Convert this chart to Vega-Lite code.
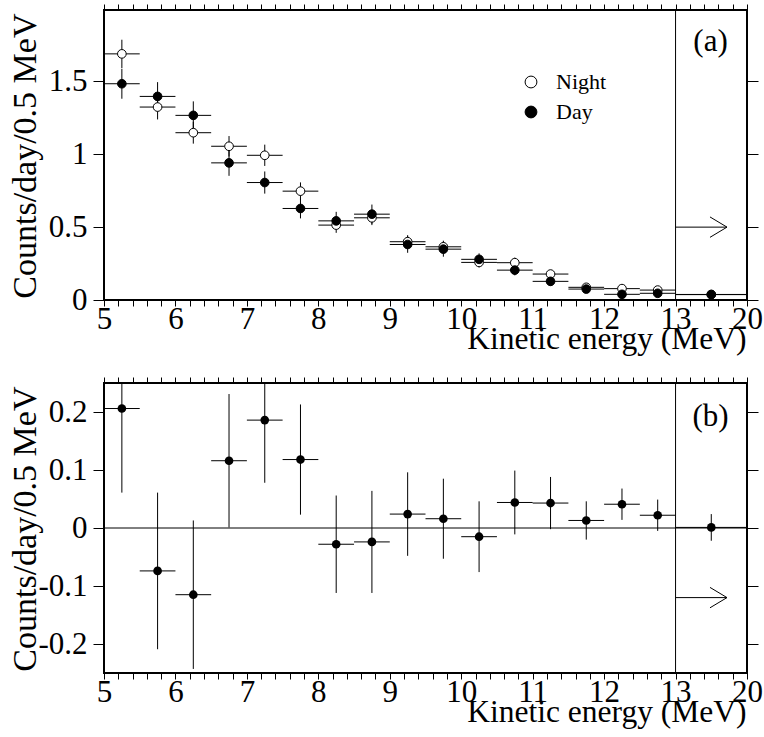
{
  "$schema": "https://vega.github.io/schema/vega-lite/v6.json",
  "padding": {"left": 6, "top": 2, "right": 2, "bottom": 2},
  "background": "white",
  "config": {
    "view": {"stroke": "black", "strokeWidth": 2},
    "font": "Liberation Serif",
    "axis": {"domain": false, "grid": false, "tickColor": "black", "tickWidth": 1, "labelColor": "black", "titleColor": "black", "labelFont": "Liberation Serif", "titleFont": "Liberation Serif", "titleFontWeight": "normal", "labelFontSize": 31, "titleFontSize": 31.5, "labelFlush": false, "labelOverlap": false}
  },
  "datasets": {
    "spectrum": [
      {"series": "Night", "e": 5.25, "elo": 5, "ehi": 5.5, "v": 1.689, "vlo": 1.592, "vhi": 1.786},
      {"series": "Night", "e": 5.75, "elo": 5.5, "ehi": 6, "v": 1.324, "vlo": 1.239, "vhi": 1.409},
      {"series": "Night", "e": 6.25, "elo": 6, "ehi": 6.5, "v": 1.148, "vlo": 1.073, "vhi": 1.223},
      {"series": "Night", "e": 6.75, "elo": 6.5, "ehi": 7, "v": 1.055, "vlo": 0.985, "vhi": 1.125},
      {"series": "Night", "e": 7.25, "elo": 7, "ehi": 7.5, "v": 0.993, "vlo": 0.92, "vhi": 1.066},
      {"series": "Night", "e": 7.75, "elo": 7.5, "ehi": 8, "v": 0.747, "vlo": 0.687, "vhi": 0.807},
      {"series": "Night", "e": 8.25, "elo": 8, "ehi": 8.5, "v": 0.514, "vlo": 0.461, "vhi": 0.567},
      {"series": "Night", "e": 8.75, "elo": 8.5, "ehi": 9, "v": 0.564, "vlo": 0.514, "vhi": 0.614},
      {"series": "Night", "e": 9.25, "elo": 9, "ehi": 9.5, "v": 0.4, "vlo": 0.355, "vhi": 0.445},
      {"series": "Night", "e": 9.75, "elo": 9.5, "ehi": 10, "v": 0.365, "vlo": 0.323, "vhi": 0.407},
      {"series": "Night", "e": 10.25, "elo": 10, "ehi": 10.5, "v": 0.258, "vlo": 0.223, "vhi": 0.293},
      {"series": "Night", "e": 10.75, "elo": 10.5, "ehi": 11, "v": 0.256, "vlo": 0.221, "vhi": 0.291},
      {"series": "Night", "e": 11.25, "elo": 11, "ehi": 11.5, "v": 0.178, "vlo": 0.15, "vhi": 0.206},
      {"series": "Night", "e": 11.75, "elo": 11.5, "ehi": 12, "v": 0.087, "vlo": 0.067, "vhi": 0.107},
      {"series": "Night", "e": 12.25, "elo": 12, "ehi": 12.5, "v": 0.078, "vlo": 0.06, "vhi": 0.096},
      {"series": "Night", "e": 12.75, "elo": 12.5, "ehi": 13, "v": 0.068, "vlo": 0.052, "vhi": 0.084},
      {"series": "Night", "e": 16.5, "elo": 13, "ehi": 20, "v": 0.038, "vlo": 0.026, "vhi": 0.05},
      {"series": "Day", "e": 5.25, "elo": 5, "ehi": 5.5, "v": 1.484, "vlo": 1.381, "vhi": 1.587},
      {"series": "Day", "e": 5.75, "elo": 5.5, "ehi": 6, "v": 1.397, "vlo": 1.299, "vhi": 1.495},
      {"series": "Day", "e": 6.25, "elo": 6, "ehi": 6.5, "v": 1.267, "vlo": 1.171, "vhi": 1.363},
      {"series": "Day", "e": 6.75, "elo": 6.5, "ehi": 7, "v": 0.941, "vlo": 0.852, "vhi": 1.03},
      {"series": "Day", "e": 7.25, "elo": 7, "ehi": 7.5, "v": 0.806, "vlo": 0.73, "vhi": 0.882},
      {"series": "Day", "e": 7.75, "elo": 7.5, "ehi": 8, "v": 0.628, "vlo": 0.56, "vhi": 0.696},
      {"series": "Day", "e": 8.25, "elo": 8, "ehi": 8.5, "v": 0.543, "vlo": 0.481, "vhi": 0.605},
      {"series": "Day", "e": 8.75, "elo": 8.5, "ehi": 9, "v": 0.589, "vlo": 0.523, "vhi": 0.655},
      {"series": "Day", "e": 9.25, "elo": 9, "ehi": 9.5, "v": 0.381, "vlo": 0.324, "vhi": 0.438},
      {"series": "Day", "e": 9.75, "elo": 9.5, "ehi": 10, "v": 0.349, "vlo": 0.297, "vhi": 0.401},
      {"series": "Day", "e": 10.25, "elo": 10, "ehi": 10.5, "v": 0.279, "vlo": 0.238, "vhi": 0.32},
      {"series": "Day", "e": 10.75, "elo": 10.5, "ehi": 11, "v": 0.205, "vlo": 0.169, "vhi": 0.241},
      {"series": "Day", "e": 11.25, "elo": 11, "ehi": 11.5, "v": 0.128, "vlo": 0.098, "vhi": 0.158},
      {"series": "Day", "e": 11.75, "elo": 11.5, "ehi": 12, "v": 0.075, "vlo": 0.053, "vhi": 0.097},
      {"series": "Day", "e": 12.25, "elo": 12, "ehi": 12.5, "v": 0.039, "vlo": 0.023, "vhi": 0.055},
      {"series": "Day", "e": 12.75, "elo": 12.5, "ehi": 13, "v": 0.046, "vlo": 0.03, "vhi": 0.062},
      {"series": "Day", "e": 16.5, "elo": 13, "ehi": 20, "v": 0.037, "vlo": 0.025, "vhi": 0.049}
    ],
    "difference": [
      {"e": 5.25, "elo": 5, "ehi": 5.5, "v": 0.206, "vlo": 0.061, "vhi": 0.351},
      {"e": 5.75, "elo": 5.5, "ehi": 6, "v": -0.074, "vlo": -0.209, "vhi": 0.061},
      {"e": 6.25, "elo": 6, "ehi": 6.5, "v": -0.115, "vlo": -0.243, "vhi": 0.013},
      {"e": 6.75, "elo": 6.5, "ehi": 7, "v": 0.116, "vlo": 0.001, "vhi": 0.231},
      {"e": 7.25, "elo": 7, "ehi": 7.5, "v": 0.186, "vlo": 0.078, "vhi": 0.294},
      {"e": 7.75, "elo": 7.5, "ehi": 8, "v": 0.118, "vlo": 0.023, "vhi": 0.213},
      {"e": 8.25, "elo": 8, "ehi": 8.5, "v": -0.028, "vlo": -0.112, "vhi": 0.056},
      {"e": 8.75, "elo": 8.5, "ehi": 9, "v": -0.024, "vlo": -0.112, "vhi": 0.064},
      {"e": 9.25, "elo": 9, "ehi": 9.5, "v": 0.024, "vlo": -0.048, "vhi": 0.096},
      {"e": 9.75, "elo": 9.5, "ehi": 10, "v": 0.016, "vlo": -0.053, "vhi": 0.085},
      {"e": 10.25, "elo": 10, "ehi": 10.5, "v": -0.015, "vlo": -0.076, "vhi": 0.046},
      {"e": 10.75, "elo": 10.5, "ehi": 11, "v": 0.044, "vlo": -0.011, "vhi": 0.099},
      {"e": 11.25, "elo": 11, "ehi": 11.5, "v": 0.043, "vlo": -0.002, "vhi": 0.088},
      {"e": 11.75, "elo": 11.5, "ehi": 12, "v": 0.013, "vlo": -0.02, "vhi": 0.046},
      {"e": 12.25, "elo": 12, "ehi": 12.5, "v": 0.041, "vlo": 0.014, "vhi": 0.068},
      {"e": 12.75, "elo": 12.5, "ehi": 13, "v": 0.022, "vlo": -0.005, "vhi": 0.049},
      {"e": 16.5, "elo": 13, "ehi": 20, "v": 0.001, "vlo": -0.022, "vhi": 0.024}
    ]
  },
  "vconcat": [
    {
      "width": 643,
      "height": 290,
      "resolve": {"axis": {"x": "independent", "y": "independent"}},
      "layer": [
        {
          "data": {"name": "spectrum"},
          "mark": {"type": "rule", "color": "black", "strokeWidth": 1, "clip": true},
          "encoding": {
            "x": {"field": "e", "type": "quantitative", "scale": {"domain": [5, 13, 20], "range": [0, 571.56, 643], "nice": false, "zero": false},
              "axis": {"orient": "bottom", "values": [5,5.2,5.4,5.6,5.8,6,6.2,6.4,6.6,6.8,7,7.2,7.4,7.6,7.8,8,8.2,8.4,8.6,8.8,9,9.2,9.4,9.6,9.8,10,10.2,10.4,10.6,10.8,11,11.2,11.4,11.6,11.8,12,12.2,12.4,12.6,12.8,13,14.4,15.8,17.2,18.6,20],
                "labelExpr": "datum.value % 1 === 0 ? '' + datum.value : ''",
                "tickSize": 6, "labelPadding": -2,
                "encode": {"ticks": {"update": {"y2": {"signal": "datum.value % 1 === 0 ? -11 : -6"}}}},
                "title": "Kinetic energy (MeV)", "titleAnchor": "end", "titleAlign": "right", "titleBaseline": "alphabetic", "titleX": 642, "titleY": 48}},
            "y": {"field": "vlo", "type": "quantitative", "scale": {"domain": [0, 1.99], "nice": false, "zero": false},
              "axis": {"orient": "left", "values": [0, 0.5, 1, 1.5], "labelExpr": "'' + datum.value", "tickSize": 11, "labelPadding": 6,
                "encode": {"ticks": {"update": {"x2": {"value": 11}}}},
                "title": "Counts/day/0.5 MeV", "titleFontSize": 34, "titleAngle": -90, "titleAlign": "right", "titleBaseline": "alphabetic", "titleX": -69, "titleY": 3}},
            "y2": {"field": "vhi"}
          }
        },
        {
          "data": {"name": "spectrum"},
          "mark": {"type": "rule", "color": "black", "strokeWidth": 1, "clip": true},
          "encoding": {
            "x": {"field": "elo", "type": "quantitative",
              "axis": {"orient": "top", "values": [5,5.2,5.4,5.6,5.8,6,6.2,6.4,6.6,6.8,7,7.2,7.4,7.6,7.8,8,8.2,8.4,8.6,8.8,9,9.2,9.4,9.6,9.8,10,10.2,10.4,10.6,10.8,11,11.2,11.4,11.6,11.8,12,12.2,12.4,12.6,12.8,13,14.4,15.8,17.2,18.6,20],
                "labels": false, "title": null, "tickSize": 6,
                "encode": {"ticks": {"update": {"y2": {"signal": "datum.value % 1 === 0 ? 11 : 6"}}}}}},
            "x2": {"field": "ehi"},
            "y": {"field": "v", "type": "quantitative",
              "axis": {"orient": "right", "values": [0, 0.5, 1, 1.5], "labels": false, "title": null, "tickSize": 11,
                "encode": {"ticks": {"update": {"x2": {"value": -11}}}}}}
          }
        },
        {
          "data": {"values": [{"e": 13}]},
          "mark": {"type": "rule", "color": "black", "strokeWidth": 1},
          "encoding": {"x": {"field": "e", "type": "quantitative", "axis": null}}
        },
        {
          "data": {"values": [{"from": 13, "to": 18.04, "v": 0.5}]},
          "mark": {"type": "rule", "color": "black", "strokeWidth": 1},
          "encoding": {
            "x": {"field": "from", "type": "quantitative", "axis": null},
            "x2": {"field": "to"},
            "y": {"field": "v", "type": "quantitative", "axis": null}
          }
        },
        {
          "data": {"values": [{"to": 18.04, "v": 0.5}]},
          "mark": {"type": "point", "shape": "M -1 -0.6 L 0 0 L -1 0.6", "size": 1156, "filled": false, "stroke": "black", "strokeWidth": 1, "opacity": 1},
          "encoding": {
            "x": {"field": "to", "type": "quantitative", "axis": null},
            "y": {"field": "v", "type": "quantitative", "axis": null}
          }
        },
        {
          "data": {"name": "spectrum"},
          "mark": {"type": "circle", "size": 75, "stroke": "black", "strokeWidth": 1, "opacity": 1},
          "encoding": {
            "x": {"field": "e", "type": "quantitative", "axis": null},
            "y": {"field": "v", "type": "quantitative", "axis": null},
            "fill": {"field": "series", "type": "nominal", "scale": {"domain": ["Night", "Day"], "range": ["white", "black"]},
              "legend": {"orient": "none", "legendX": 416, "legendY": 61, "title": null, "padding": 0, "labelFont": "Liberation Serif", "labelFontSize": 22, "labelColor": "black", "symbolSize": 140, "symbolType": "circle", "symbolStrokeColor": "black", "symbolStrokeWidth": 1, "labelOffset": 14, "rowPadding": 8}}
          }
        },
        {
          "data": {"values": [{"label": "(a)", "e": 16.43, "v": 1.77}]},
          "mark": {"type": "text", "font": "Liberation Serif", "fontSize": 31, "color": "black", "align": "center", "baseline": "middle"},
          "encoding": {
            "x": {"field": "e", "type": "quantitative", "axis": null},
            "y": {"field": "v", "type": "quantitative", "axis": null},
            "text": {"field": "label"}
          }
        }
      ]
    },
    {
      "width": 643,
      "height": 290,
      "resolve": {"axis": {"x": "independent", "y": "independent"}},
      "layer": [
        {
          "data": {"values": [{"v": 0}]},
          "mark": {"type": "rule", "color": "black", "strokeWidth": 1},
          "encoding": {
            "y": {"field": "v", "type": "quantitative", "scale": {"domain": [-0.25, 0.25], "nice": false, "zero": false},
              "axis": {"orient": "left", "values": [-0.2, -0.1, 0, 0.1, 0.2], "labelExpr": "'' + datum.value", "tickSize": 11, "labelPadding": 6,
                "encode": {"ticks": {"update": {"x2": {"value": 11}}}},
                "title": "Counts/day/0.5 MeV", "titleFontSize": 34, "titleAngle": -90, "titleAlign": "right", "titleBaseline": "alphabetic", "titleX": -69, "titleY": 3}}
          }
        },
        {
          "data": {"name": "difference"},
          "mark": {"type": "rule", "color": "black", "strokeWidth": 1, "clip": true},
          "encoding": {
            "x": {"field": "e", "type": "quantitative", "scale": {"domain": [5, 13, 20], "range": [0, 571.56, 643], "nice": false, "zero": false},
              "axis": {"orient": "bottom", "values": [5,5.2,5.4,5.6,5.8,6,6.2,6.4,6.6,6.8,7,7.2,7.4,7.6,7.8,8,8.2,8.4,8.6,8.8,9,9.2,9.4,9.6,9.8,10,10.2,10.4,10.6,10.8,11,11.2,11.4,11.6,11.8,12,12.2,12.4,12.6,12.8,13,14.4,15.8,17.2,18.6,20],
                "labelExpr": "datum.value % 1 === 0 ? '' + datum.value : ''",
                "tickSize": 6, "labelPadding": -2,
                "encode": {"ticks": {"update": {"y2": {"signal": "datum.value % 1 === 0 ? -11 : -6"}}}},
                "title": "Kinetic energy (MeV)", "titleAnchor": "end", "titleAlign": "right", "titleBaseline": "alphabetic", "titleX": 642, "titleY": 48}},
            "y": {"field": "vlo", "type": "quantitative", "axis": null},
            "y2": {"field": "vhi"}
          }
        },
        {
          "data": {"name": "difference"},
          "mark": {"type": "rule", "color": "black", "strokeWidth": 1, "clip": true},
          "encoding": {
            "x": {"field": "elo", "type": "quantitative",
              "axis": {"orient": "top", "values": [5,5.2,5.4,5.6,5.8,6,6.2,6.4,6.6,6.8,7,7.2,7.4,7.6,7.8,8,8.2,8.4,8.6,8.8,9,9.2,9.4,9.6,9.8,10,10.2,10.4,10.6,10.8,11,11.2,11.4,11.6,11.8,12,12.2,12.4,12.6,12.8,13,14.4,15.8,17.2,18.6,20],
                "labels": false, "title": null, "tickSize": 6,
                "encode": {"ticks": {"update": {"y2": {"signal": "datum.value % 1 === 0 ? 11 : 6"}}}}}},
            "x2": {"field": "ehi"},
            "y": {"field": "v", "type": "quantitative",
              "axis": {"orient": "right", "values": [-0.2, -0.1, 0, 0.1, 0.2], "labels": false, "title": null, "tickSize": 11,
                "encode": {"ticks": {"update": {"x2": {"value": -11}}}}}}
          }
        },
        {
          "data": {"values": [{"e": 13}]},
          "mark": {"type": "rule", "color": "black", "strokeWidth": 1},
          "encoding": {"x": {"field": "e", "type": "quantitative", "axis": null}}
        },
        {
          "data": {"values": [{"from": 13, "to": 18.04, "v": -0.12}]},
          "mark": {"type": "rule", "color": "black", "strokeWidth": 1},
          "encoding": {
            "x": {"field": "from", "type": "quantitative", "axis": null},
            "x2": {"field": "to"},
            "y": {"field": "v", "type": "quantitative", "axis": null}
          }
        },
        {
          "data": {"values": [{"to": 18.04, "v": -0.12}]},
          "mark": {"type": "point", "shape": "M -1 -0.6 L 0 0 L -1 0.6", "size": 1156, "filled": false, "stroke": "black", "strokeWidth": 1, "opacity": 1},
          "encoding": {
            "x": {"field": "to", "type": "quantitative", "axis": null},
            "y": {"field": "v", "type": "quantitative", "axis": null}
          }
        },
        {
          "data": {"name": "difference"},
          "mark": {"type": "circle", "size": 75, "color": "black", "opacity": 1},
          "encoding": {
            "x": {"field": "e", "type": "quantitative", "axis": null},
            "y": {"field": "v", "type": "quantitative", "axis": null}
          }
        },
        {
          "data": {"values": [{"label": "(b)", "e": 16.43, "v": 0.192}]},
          "mark": {"type": "text", "font": "Liberation Serif", "fontSize": 31, "color": "black", "align": "center", "baseline": "middle"},
          "encoding": {
            "x": {"field": "e", "type": "quantitative", "axis": null},
            "y": {"field": "v", "type": "quantitative", "axis": null},
            "text": {"field": "label"}
          }
        }
      ]
    }
  ],
  "spacing": 83,
  "bounds": "flush",
  "resolve": {"legend": {"fill": "independent"}}
}
